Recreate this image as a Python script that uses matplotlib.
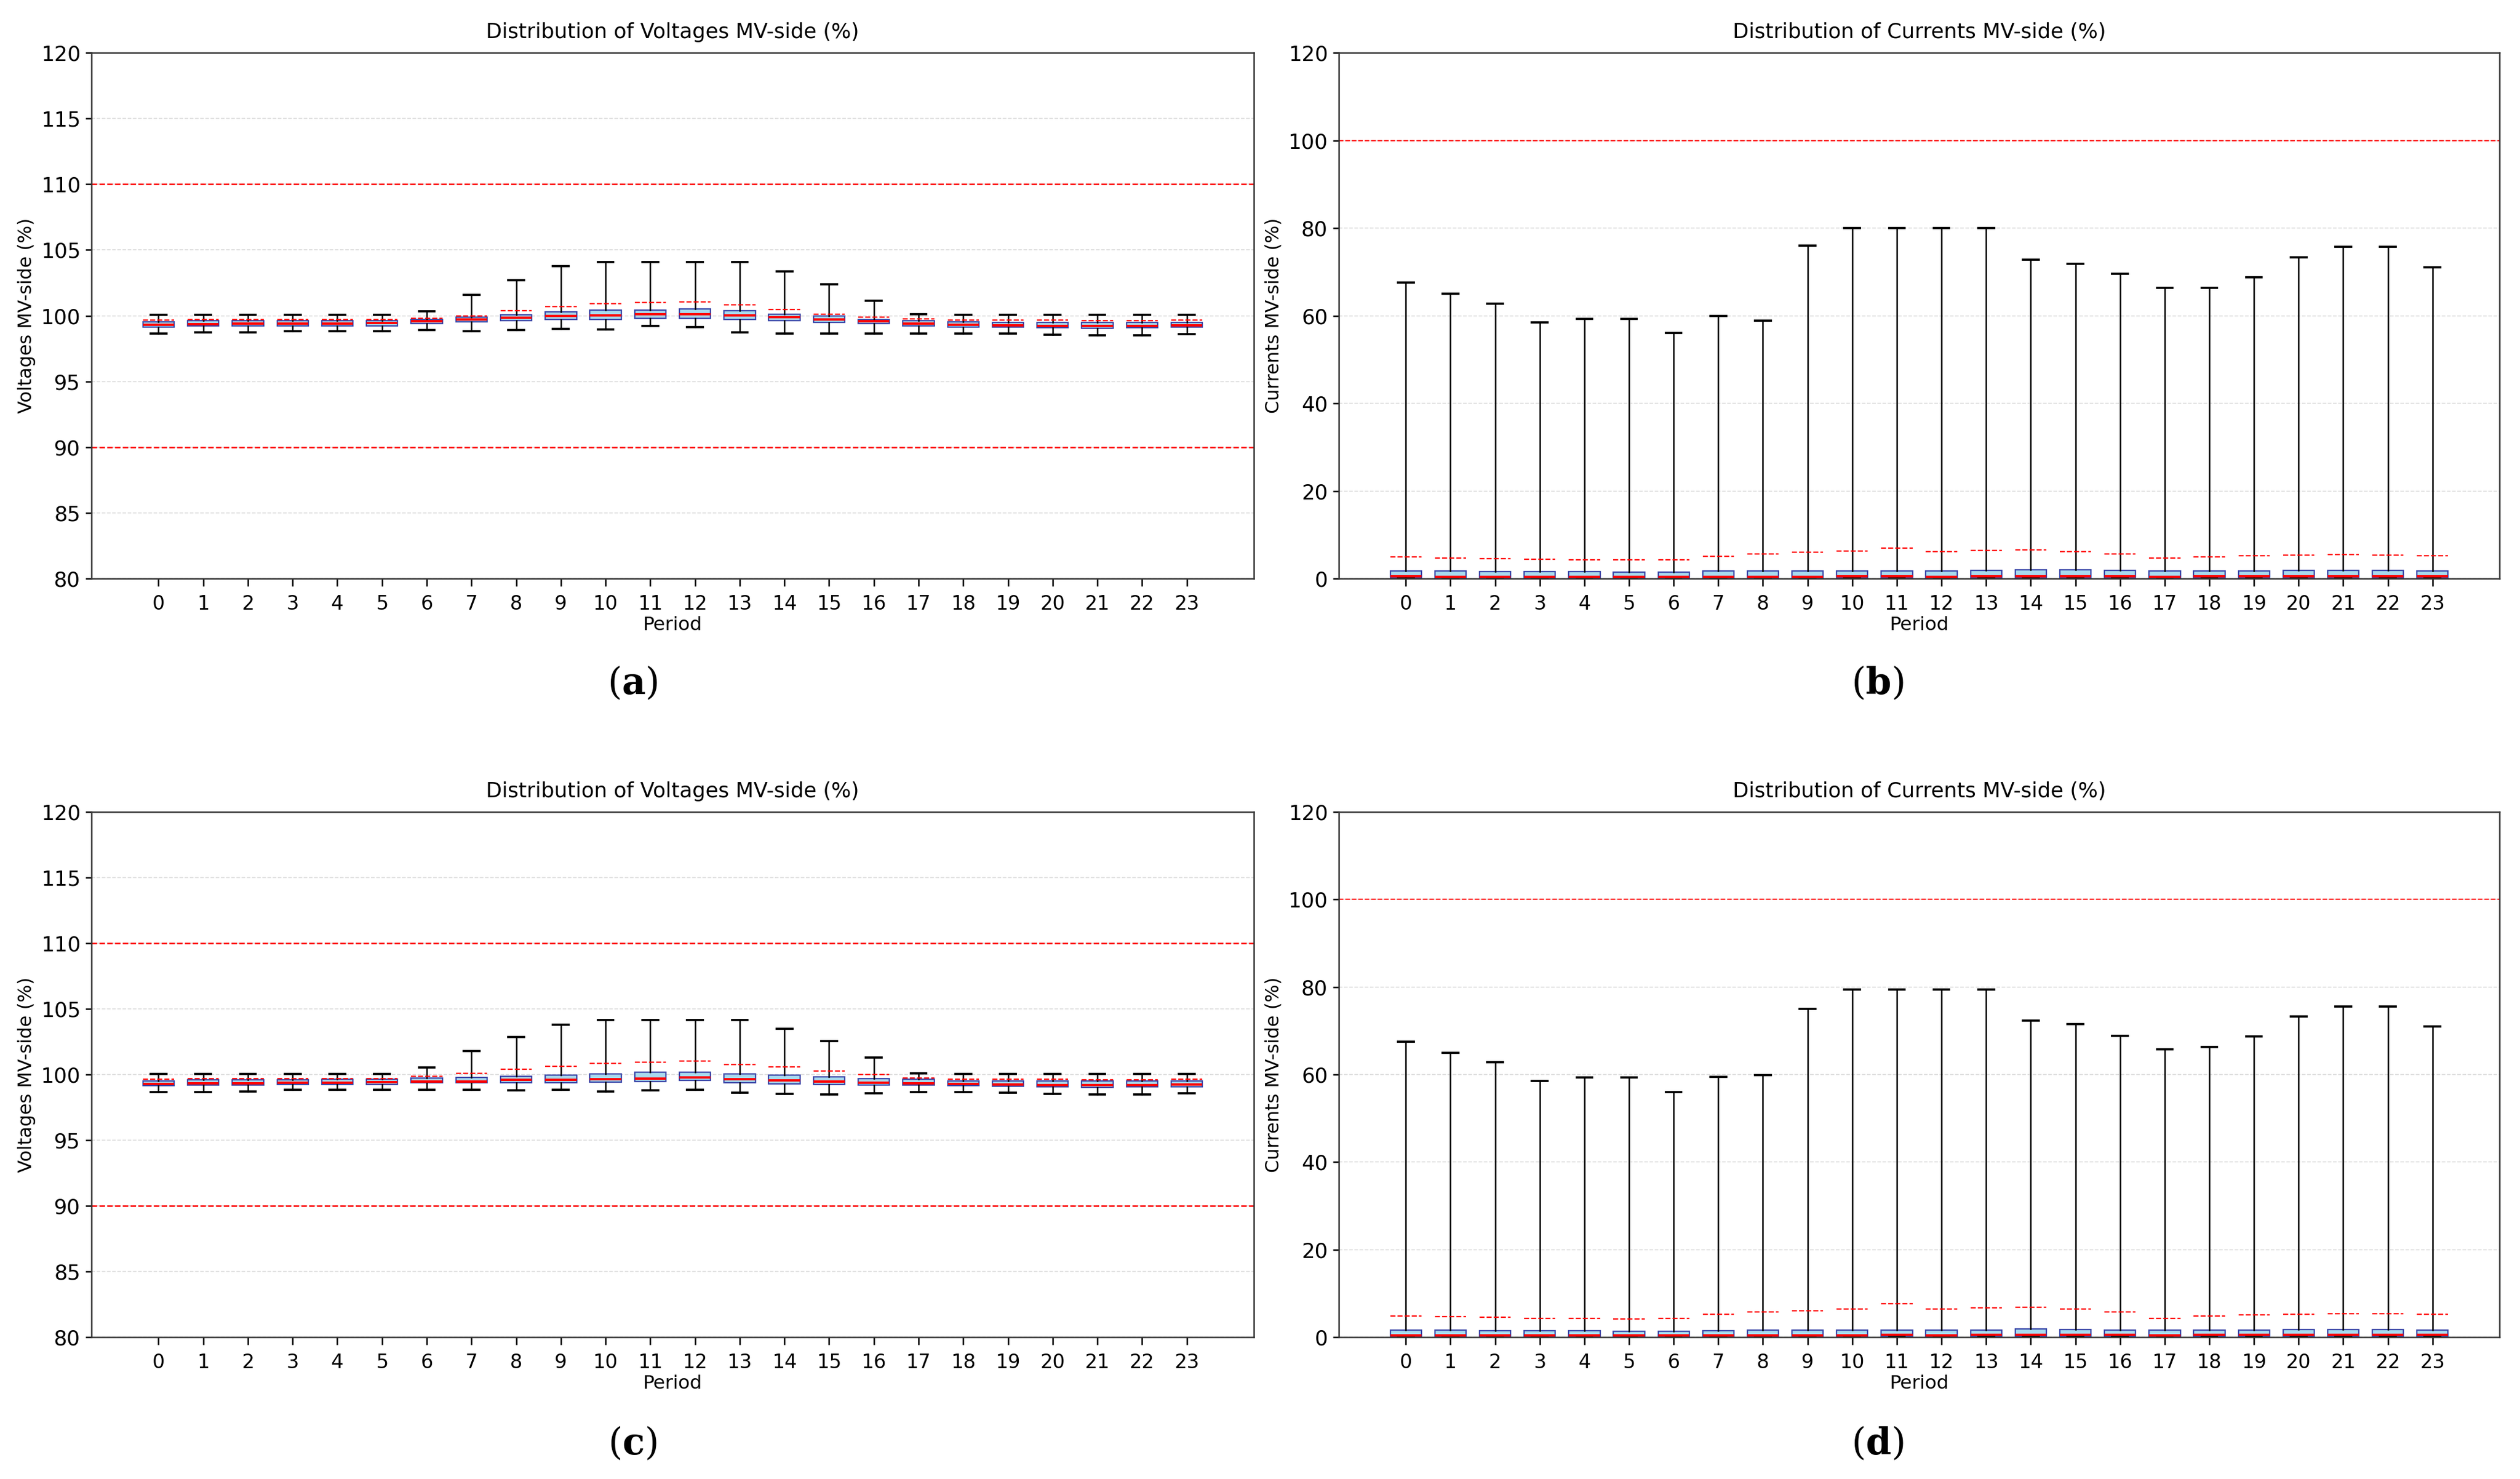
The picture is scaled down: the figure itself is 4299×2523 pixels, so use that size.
import matplotlib
matplotlib.use("Agg")
import matplotlib.pyplot as plt

plt.rcParams['font.family'] = ['DejaVu Sans']
plt.rcParams['mathtext.fontset'] = 'dejavuserif'

periods = list(range(24))

# ---- Panel (a): voltages ----
va_whislo = [98.66, 98.71, 98.72, 98.84, 98.84, 98.84, 98.92, 98.84, 98.92, 98.98, 98.96, 99.21,
             99.15, 98.71, 98.64, 98.66, 98.64, 98.66, 98.66, 98.64, 98.55, 98.52, 98.52, 98.61]
va_q1 = [99.15, 99.20, 99.24, 99.24, 99.24, 99.24, 99.42, 99.54, 99.60, 99.69, 99.73, 99.82,
         99.82, 99.73, 99.60, 99.47, 99.38, 99.24, 99.15, 99.11, 99.07, 99.02, 99.07, 99.11]
va_med = [99.29, 99.36, 99.41, 99.41, 99.41, 99.45, 99.58, 99.72, 99.85, 99.99, 100.03, 100.09,
          100.12, 100.03, 99.90, 99.72, 99.58, 99.41, 99.29, 99.26, 99.21, 99.21, 99.21, 99.27]
va_q3 = [99.51, 99.60, 99.60, 99.64, 99.64, 99.64, 99.73, 99.87, 100.07, 100.30, 100.43, 100.43,
         100.52, 100.36, 100.13, 99.96, 99.73, 99.60, 99.51, 99.50, 99.50, 99.50, 99.50, 99.50]
va_whishi = [100.06, 100.06, 100.06, 100.06, 100.06, 100.06, 100.33, 101.57, 102.72, 103.75, 104.10, 104.10,
             104.10, 104.10, 103.37, 102.39, 101.14, 100.09, 100.06, 100.06, 100.06, 100.06, 100.06, 100.06]
va_mean = [99.66, 99.69, 99.73, 99.73, 99.73, 99.73, 99.81, 99.99, 100.36, 100.70, 100.92, 100.99,
           101.05, 100.83, 100.49, 100.12, 99.87, 99.75, 99.67, 99.67, 99.67, 99.63, 99.63, 99.67]

# ---- Panel (c): voltages ----
vc_whislo = [98.65, 98.68, 98.72, 98.82, 98.82, 98.82, 98.85, 98.82, 98.78, 98.82, 98.72, 98.78,
             98.82, 98.63, 98.51, 98.47, 98.57, 98.65, 98.65, 98.62, 98.51, 98.47, 98.47, 98.57]
vc_q1 = [99.14, 99.18, 99.18, 99.23, 99.23, 99.23, 99.36, 99.36, 99.36, 99.36, 99.40, 99.45,
         99.54, 99.38, 99.27, 99.23, 99.18, 99.18, 99.14, 99.09, 99.05, 99.00, 99.05, 99.05]
vc_med = [99.27, 99.33, 99.33, 99.39, 99.39, 99.42, 99.45, 99.48, 99.58, 99.61, 99.66, 99.70,
          99.76, 99.66, 99.57, 99.45, 99.39, 99.33, 99.27, 99.26, 99.21, 99.21, 99.21, 99.26]
vc_q3 = [99.49, 99.58, 99.58, 99.58, 99.63, 99.63, 99.75, 99.79, 99.88, 99.94, 100.06, 100.16,
         100.16, 100.03, 99.94, 99.81, 99.70, 99.63, 99.49, 99.49, 99.49, 99.49, 99.49, 99.49]
vc_whishi = [100.03, 100.03, 100.03, 100.03, 100.03, 100.03, 100.54, 101.77, 102.86, 103.81, 104.17, 104.17,
             104.17, 104.17, 103.47, 102.53, 101.28, 100.10, 100.03, 100.03, 100.03, 100.03, 100.03, 100.03]
vc_mean = [99.63, 99.67, 99.67, 99.70, 99.70, 99.70, 99.88, 100.10, 100.40, 100.64, 100.86, 100.94,
           101.01, 100.77, 100.57, 100.25, 99.99, 99.75, 99.63, 99.63, 99.63, 99.60, 99.60, 99.63]

# ---- Panel (b): currents ----
cb_whislo = [0.0, 0.0, 0.0, 0.0, 0.0, 0.0, 0.0, 0.0, 0.0, 0.0, 0.0, 0.0,
             0.0, 0.0, 0.0, 0.0, 0.0, 0.0, 0.0, 0.0, 0.0, 0.0, 0.0, 0.0]
cb_q1 = [0.12, 0.12, 0.12, 0.12, 0.12, 0.12, 0.12, 0.12, 0.12, 0.12, 0.12, 0.12,
         0.12, 0.12, 0.12, 0.12, 0.12, 0.12, 0.12, 0.12, 0.12, 0.12, 0.12, 0.12]
cb_med = [0.58, 0.40, 0.40, 0.40, 0.40, 0.40, 0.40, 0.40, 0.40, 0.40, 0.58, 0.58,
          0.40, 0.58, 0.58, 0.58, 0.58, 0.40, 0.58, 0.58, 0.58, 0.58, 0.58, 0.58]
cb_q3 = [1.70, 1.70, 1.56, 1.56, 1.56, 1.43, 1.43, 1.70, 1.70, 1.70, 1.70, 1.70,
         1.70, 1.83, 1.96, 1.96, 1.83, 1.70, 1.70, 1.70, 1.83, 1.83, 1.83, 1.70]
cb_whishi = [67.5, 65.0, 62.8, 58.5, 59.3, 59.3, 56.0, 60.0, 58.8, 76.0, 80.0, 80.0,
             80.0, 80.0, 72.8, 71.8, 69.5, 66.3, 66.3, 68.7, 73.3, 75.7, 75.7, 71.0]
cb_mean = [5.00, 4.73, 4.50, 4.42, 4.29, 4.24, 4.24, 5.04, 5.63, 5.98, 6.34, 6.92,
           6.20, 6.38, 6.52, 6.16, 5.58, 4.64, 5.00, 5.18, 5.36, 5.45, 5.36, 5.18]

# ---- Panel (d): currents ----
cd_whislo = [0.0, 0.0, 0.0, 0.0, 0.0, 0.0, 0.0, 0.0, 0.0, 0.0, 0.0, 0.0,
             0.0, 0.0, 0.0, 0.0, 0.0, 0.0, 0.0, 0.0, 0.0, 0.0, 0.0, 0.0]
cd_q1 = [0.12, 0.12, 0.12, 0.12, 0.12, 0.12, 0.12, 0.12, 0.12, 0.12, 0.12, 0.12,
         0.12, 0.12, 0.12, 0.12, 0.12, 0.12, 0.12, 0.12, 0.12, 0.12, 0.12, 0.12]
cd_med = [0.45, 0.45, 0.45, 0.45, 0.45, 0.45, 0.45, 0.45, 0.45, 0.45, 0.45, 0.50,
          0.45, 0.50, 0.50, 0.50, 0.50, 0.45, 0.50, 0.50, 0.50, 0.50, 0.50, 0.50]
cd_q3 = [1.66, 1.66, 1.52, 1.52, 1.52, 1.39, 1.39, 1.52, 1.66, 1.66, 1.66, 1.66,
         1.66, 1.66, 1.92, 1.79, 1.66, 1.66, 1.66, 1.66, 1.79, 1.79, 1.79, 1.66]
cd_whishi = [67.5, 65.0, 62.8, 58.5, 59.3, 59.3, 56.0, 59.5, 59.8, 75.0, 79.4, 79.4,
             79.4, 79.4, 72.3, 71.5, 68.8, 65.8, 66.3, 68.7, 73.3, 75.5, 75.5, 71.0]
cd_mean = [4.88, 4.70, 4.52, 4.34, 4.30, 4.12, 4.30, 5.19, 5.73, 6.04, 6.40, 7.70,
           6.40, 6.71, 6.89, 6.40, 5.82, 4.34, 4.88, 5.06, 5.28, 5.41, 5.41, 5.19]

v_title = "Distribution of Voltages MV-side (%)"
c_title = "Distribution of Currents MV-side (%)"
v_ylabel = "Voltages MV-side (%)"
c_ylabel = "Currents MV-side (%)"
xlabel = "Period"
v_limits = [90, 110]
c_limits = [100]
panel_labels = ["a", "b", "c", "d"]

W, H = 4299, 2523
DPI = 300
fig = plt.figure(figsize=(W / DPI, H / DPI), dpi=DPI)

def frac(l, r, t, b):
    return [l / W, 1 - b / H, (r - l) / W, (b - t) / H]

rects = [frac(156, 2139, 90, 987), frac(2284, 4264, 90, 987),
         frac(156, 2139, 1385, 2281), frac(2284, 4264, 1385, 2281)]

panels = [
    (va_whislo, va_q1, va_med, va_q3, va_whishi, va_mean, 'v'),
    (cb_whislo, cb_q1, cb_med, cb_q3, cb_whishi, cb_mean, 'c'),
    (vc_whislo, vc_q1, vc_med, vc_q3, vc_whishi, vc_mean, 'v'),
    (cd_whislo, cd_q1, cd_med, cd_q3, cd_whishi, cd_mean, 'c'),
]

for rect, (wl, q1, md, q3, wh, mn, kind) in zip(rects, panels):
    ax = fig.add_axes(rect)
    stats = []
    for i in range(len(periods)):
        stats.append(dict(whislo=wl[i], q1=q1[i], med=md[i], q3=q3[i],
                          whishi=wh[i], mean=mn[i], fliers=[], label=str(periods[i])))
    ax.bxp(stats, positions=periods, widths=0.7, patch_artist=True,
           showmeans=True, meanline=True, showfliers=False,
           boxprops=dict(facecolor='#a8daee', edgecolor='#3a46a8', linewidth=0.55),
           medianprops=dict(color='red', linewidth=0.95),
           meanprops=dict(color='red', linestyle='--', linewidth=0.55),
           whiskerprops=dict(color='black', linewidth=0.6),
           capprops=dict(color='black', linewidth=0.9))
    ax.set_xlim(-1.5, 24.5)
    ax.set_xticks(periods)
    ax.set_xticklabels([str(p) for p in periods], fontsize=8)
    if kind == 'v':
        ax.set_ylim(80, 120)
        ax.set_yticks(list(range(80, 121, 5)))
        for lim in v_limits:
            ax.axhline(lim, color='red', linestyle='--', linewidth=0.6, zorder=1)
        ax.set_title(v_title, fontsize=8.5)
        ax.set_ylabel(v_ylabel, fontsize=7.6)
    else:
        ax.set_ylim(0, 120)
        ax.set_yticks(list(range(0, 121, 20)))
        for lim in c_limits:
            ax.axhline(lim, color='red', linestyle='--', linewidth=0.5, zorder=1)
        ax.set_title(c_title, fontsize=8.5)
        ax.set_ylabel(c_ylabel, fontsize=7.6)
    ax.yaxis.set_label_coords(-0.048, 0.5)
    ax.tick_params(axis='y', labelsize=8.5, width=0.6, length=2.5, pad=2)
    ax.tick_params(axis='x', width=0.6, length=3)
    ax.set_xlabel(xlabel, fontsize=7.8, labelpad=1)
    ax.yaxis.grid(True, linestyle='--', color='#dddddd', linewidth=0.4)
    ax.set_axisbelow(True)
    for s in ax.spines.values():
        s.set_linewidth(0.6)
        s.set_color('#333333')

label_pos = [(0.251, 0.538), (0.745, 0.538), (0.251, 0.024), (0.745, 0.024)]
for (x, y), lab in zip(label_pos, panel_labels):
    fig.text(x, y, '(' + r'$\mathbf{' + lab + '}$' + ')', ha='center', va='center',
             fontsize=15, family='DejaVu Serif')

fig.savefig('out.png', dpi=DPI)
